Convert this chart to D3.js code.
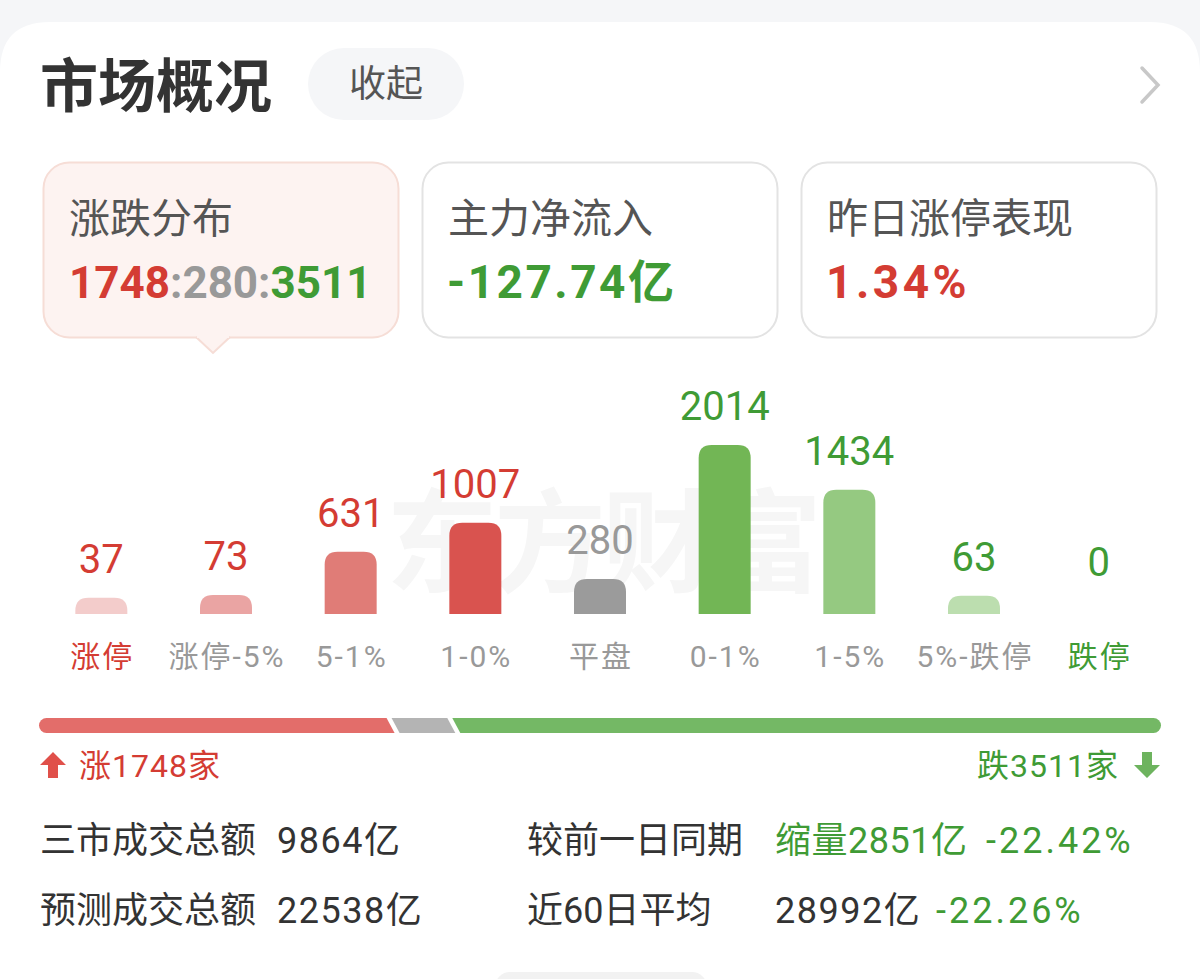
<!DOCTYPE html>
<html><head><meta charset="utf-8">
<script src="https://cdn.jsdelivr.net/npm/d3@7/dist/d3.min.js"></script>
<style>
html,body{margin:0;padding:0;background:#f5f6f8;}
svg{display:block;}
text{font-family:Roboto,"Noto Sans CJK SC",sans-serif;}
</style></head>
<body>
<svg id="chart" width="1200" height="979"></svg>
<script>
// ---- data ----
const categories = ["涨停","涨停-5%","5-1%","1-0%","平盘","0-1%","1-5%","5%-跌停","跌停"];
const counts = [37, 73, 631, 1007, 280, 2014, 1434, 63, 0];
const barColors = ["#f3cccb","#eaa4a3","#e07c77","#d9534f","#9b9b9b","#72b655","#95c981","#bcdeaf","#bcdeaf"];
const labelColors = ["#d43c33","#d43c33","#d43c33","#d43c33","#999999","#3f9b35","#3f9b35","#3f9b35","#3f9b35"];
const catColors = ["#d43c33","#999999","#999999","#999999","#999999","#999999","#999999","#999999","#3f9b35"];
const upDownFlat = [1748, 280, 3511];
const summaryTitles = ["涨跌分布","主力净流入","昨日涨停表现"];
const netInflow = "-127.74亿";
const ztPerf = "1.34%";
const statsLeftLabels = ["三市成交总额","预测成交总额"];
const statsLeftValues = ["9864亿","22538亿"];
const statsRightLabels = ["较前一日同期","近60日平均"];

const RED = "#d43c33", GREEN = "#3f9b35", GRAY = "#999999", DARK = "#333333";

const svg = d3.select("#chart");

// background + card
svg.append("rect").attr("x",0).attr("y",0).attr("width",1200).attr("height",979).attr("fill","#f5f6f8");
svg.append("path")
  .attr("d","M0,72 Q0,22 50,22 L1150,22 Q1200,22 1200,72 L1200,979 L0,979 Z")
  .attr("fill","#ffffff");

// header
svg.append("text").attr("x",40).attr("y",107).attr("font-size",58).attr("font-weight",700)
  .attr("fill",DARK).text("市场概况");
svg.append("rect").attr("x",308).attr("y",48).attr("width",156).attr("height",72).attr("rx",36)
  .attr("fill","#f5f6f8");
svg.append("text").attr("x",386).attr("y",97).attr("text-anchor","middle").attr("font-size",37)
  .attr("fill","#555").text("收起");
svg.append("path").attr("d","M1142,68 L1158,85 L1142,102").attr("fill","none")
  .attr("stroke","#c8c8c8").attr("stroke-width",3.5).attr("stroke-linecap","round");

// summary cards
const cardX = [43, 422, 801], cardW = 355, cardY = 162, cardH = 175;
cardX.forEach((x,i)=>{
  svg.append("rect").attr("x",x+0.5).attr("y",cardY+0.5).attr("width",cardW).attr("height",cardH)
    .attr("rx",26).attr("fill", i===0 ? "#fdf3f1" : "#ffffff")
    .attr("stroke", i===0 ? "#f6ddd6" : "#e3e3e3").attr("stroke-width",2);
  svg.append("text").attr("x",x+26).attr("y",233).attr("font-size",41).attr("fill","#555")
    .text(summaryTitles[i]);
});
// pointer under first card
const pcx = 213;
svg.append("path").attr("d",`M${pcx-17},${cardY+cardH} L${pcx},${cardY+cardH+16} L${pcx+17},${cardY+cardH}`)
  .attr("fill","#fdf3f1").attr("stroke","#f6ddd6").attr("stroke-width",2);
svg.append("rect").attr("x",pcx-16).attr("y",cardY+cardH-3).attr("width",32).attr("height",4).attr("fill","#fdf3f1");

const ratio = svg.append("text").attr("x",69).attr("y",298).attr("font-size",44).attr("font-weight",700);
ratio.append("tspan").attr("fill",RED).text(upDownFlat[0]);
ratio.append("tspan").attr("fill",GRAY).text(":"+upDownFlat[1]+":");
ratio.append("tspan").attr("fill",GREEN).text(upDownFlat[2]);
svg.append("text").attr("x",447).attr("y",298).attr("font-size",46).attr("font-weight",700)
  .attr("letter-spacing",2.5).attr("fill",GREEN).text(netInflow);
svg.append("text").attr("x",826).attr("y",298).attr("font-size",46).attr("font-weight",700)
  .attr("letter-spacing",3.5).attr("fill",RED).text(ztPerf);

// watermark
svg.append("text").attr("x",602).attr("y",584).attr("text-anchor","middle").attr("font-size",112)
  .attr("font-weight",700).attr("fill","#f6f6f6").attr("letter-spacing",-4).text("东方财富");

// bars
const baseY = 614;
const x = d3.scalePoint().domain(categories).range([39,1161]).padding(0.5);
const y = d3.scaleLinear().domain([0, d3.max(counts)]).range([baseY-13.4, baseY-169]);
const barW = 52;
const data = categories.map((c,i)=>({c, v:counts[i], i}));

function barPath(cx, top, bottom, w, r){
  const h = bottom - top; r = Math.min(r, h, w/2);
  const x0 = cx - w/2, x1 = cx + w/2;
  return `M${x0},${bottom} L${x0},${top+r} Q${x0},${top} ${x0+r},${top} L${x1-r},${top} Q${x1},${top} ${x1},${top+r} L${x1},${bottom} Z`;
}
svg.append("g").selectAll("path").data(data.filter(d=>d.v>0)).join("path")
  .attr("d", d=>barPath(x(d.c), y(d.v), baseY, barW, 13))
  .attr("fill", d=>barColors[d.i]);

svg.append("g").selectAll("text").data(data).join("text")
  .attr("x", d=>x(d.c)).attr("y", d=>y(d.v)-25).attr("text-anchor","middle")
  .attr("font-size",40).attr("fill", d=>labelColors[d.i]).text(d=>d.v);

svg.append("g").selectAll("text").data(data).join("text")
  .attr("x", d=>x(d.c)+1).attr("y", 667).attr("text-anchor","middle")
  .attr("font-size",30).attr("letter-spacing",2).attr("fill", d=>catColors[d.i]).text(d=>d.c);

// split bar
const total = d3.sum(upDownFlat);
const sx = d3.scaleLinear().domain([0,total]).range([39,1161]);
const bTop = 718, bBot = 733, bh = bBot-bTop, slant = 8, gap = 5, rr = bh/2;
const b1 = sx(upDownFlat[0]), b2 = sx(upDownFlat[0]+upDownFlat[1]) + 4;
const segs = [
  {d:`M${39+rr},${bTop} L${b1-slant/2-gap/2},${bTop} L${b1+slant/2-gap/2},${bBot} L${39+rr},${bBot} A${rr},${rr} 0 0 1 ${39+rr},${bTop} Z`, f:"#e36d6a"},
  {d:`M${b1-slant/2+gap/2},${bTop} L${b2-slant/2-gap/2},${bTop} L${b2+slant/2-gap/2},${bBot} L${b1+slant/2+gap/2},${bBot} Z`, f:"#b4b4b4"},
  {d:`M${b2-slant/2+gap/2},${bTop} L${1161-rr},${bTop} A${rr},${rr} 0 0 1 ${1161-rr},${bBot} L${b2+slant/2+gap/2},${bBot} Z`, f:"#74b865"}
];
svg.append("g").selectAll("path").data(segs).join("path").attr("d",d=>d.d).attr("fill",d=>d.f);

// up / down arrows and counts
svg.append("path").attr("d","M53,752 L66,765 L58,765 L58,778 L48,778 L48,765 L40,765 Z").attr("fill","#e0504a");
svg.append("text").attr("x",79).attr("y",777).attr("font-size",32).attr("letter-spacing",1).attr("fill",RED).text("涨"+upDownFlat[0]+"家");
svg.append("path").attr("d","M1142,752 L1152,752 L1152,765 L1160,765 L1147,778 L1134,765 L1142,765 Z").attr("fill","#6db35e");
svg.append("text").attr("x",1119).attr("y",777).attr("text-anchor","end").attr("font-size",32).attr("letter-spacing",1).attr("fill",GREEN).text("跌"+upDownFlat[2]+"家");

// stats
const rowY = [853, 923];
statsLeftLabels.forEach((l,i)=>{
  svg.append("text").attr("x",40).attr("y",rowY[i]).attr("font-size",36).attr("fill",DARK).text(l);
  svg.append("text").attr("x",277).attr("y",rowY[i]).attr("font-size",36).attr("letter-spacing",1.5).attr("fill",DARK).text(statsLeftValues[i]);
  svg.append("text").attr("x",527).attr("y",rowY[i]).attr("font-size",36).attr("fill",DARK).text(statsRightLabels[i]);
});
svg.append("text").attr("x",775).attr("y",rowY[0]).attr("font-size",36).attr("letter-spacing",0.5).attr("fill",GREEN).text("缩量2851亿");
svg.append("text").attr("x",986).attr("y",rowY[0]).attr("font-size",36).attr("letter-spacing",3).attr("fill",GREEN).text("-22.42%");
svg.append("text").attr("x",775).attr("y",rowY[1]).attr("font-size",36).attr("letter-spacing",1.5).attr("fill",DARK).text("28992亿");
svg.append("text").attr("x",936).attr("y",rowY[1]).attr("font-size",36).attr("letter-spacing",3).attr("fill",GREEN).text("-22.26%");

// bottom partial element
svg.append("rect").attr("x",495).attr("y",972).attr("width",212).attr("height",30).attr("rx",15).attr("fill","#f2f2f2");
</script>
</body></html>
